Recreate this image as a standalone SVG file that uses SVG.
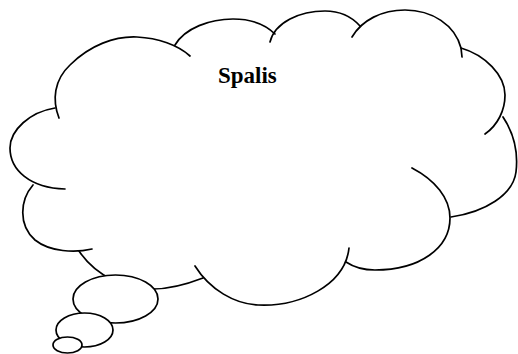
<svg xmlns="http://www.w3.org/2000/svg" width="518" height="354" viewBox="0 0 518 354">
<style>
.ln{fill:none;stroke:#000;stroke-width:1.7;stroke-linecap:round;stroke-linejoin:round}
.bub{fill:#fff;stroke:#000;stroke-width:1.7}
.lbl{font-family:"Liberation Serif","Times New Roman",serif;font-weight:bold;font-size:23px;fill:#000}
</style>
<rect width="518" height="354" fill="#fff"/>
<g id="cloud">
<path class="ln" d="M55,108 C30,112 10,130 10,148 C10,170 30,188 65,189"/>
<path class="ln" d="M59,118 C52,100 54,80 70,65 C90,45 115,36 137,37 C158,38 178,45 190,56"/>
<path class="ln" d="M175,45 C185,28 210,19 233,19 C250,19 265,24 275,34"/>
<path class="ln" d="M270,42 C275,22 300,11 325,11 C340,11 352,17 360,26"/>
<path class="ln" d="M352,37 C362,20 382,10 405,10 C432,10 455,25 461,48 L462,57"/>
<path class="ln" d="M461,48 C485,55 505,75 505,95 C505,110 498,125 485,134"/>
<path class="ln" d="M503,117 C515,135 518,155 516,172 C513,195 485,212 451,217"/>
<path class="ln" d="M412,168 C435,180 450,198 450,218 C450,248 420,270 375,270 C362,270 352,266 346,262"/>
<path class="ln" d="M349,248 C345,285 300,307 258,305 C235,304 210,290 195,266"/>
<path class="ln" d="M79,251 C95,275 125,290 153,289 C170,289 190,283 203,278"/>
<path class="ln" d="M33,185 C20,200 18,225 35,240 C50,252 75,253 92,249"/>
</g>
<g id="bubbles">
<ellipse class="bub" cx="115.5" cy="299" rx="42.5" ry="24"/>
<ellipse class="bub" cx="84.5" cy="330" rx="28.5" ry="17"/>
<ellipse class="bub" cx="67.5" cy="345" rx="14.5" ry="8"/>
</g>
<g id="label">
<text class="lbl" x="218" y="83">Spalis</text>
</g>
</svg>
